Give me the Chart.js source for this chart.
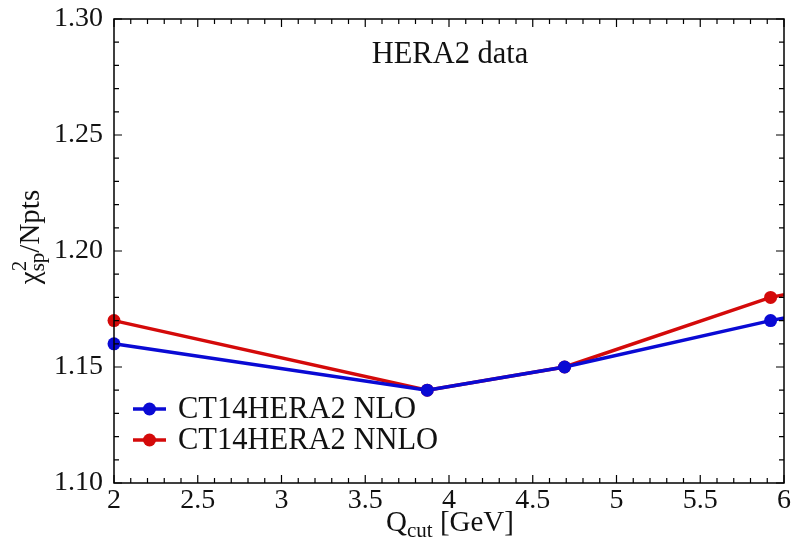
<!DOCTYPE html>
<html>
<head>
<meta charset="utf-8">
<script src="https://cdn.jsdelivr.net/npm/chart.js@4.4.1/dist/chart.umd.min.js"></script>
<style>
    html, body { margin: 0; padding: 0; background: #fff; }
    #wrap { width: 798px; height: 544px; }
</style>
</head>
<body>
<div id="wrap"><canvas id="chi2Chart" width="798" height="544"></canvas></div>
<script>
// Q_cut values (GeV); last point lies past the x range and is clipped at the frame
const qCut = [2.0, 3.87, 4.69, 5.92, 6.5];
const chi2Nlo = [1.16, 1.14, 1.15, 1.17, 1.178];
const chi2Nnlo = [1.17, 1.14, 1.15, 1.18, 1.188];
const seriesLabels = ['CT14HERA2 NLO', 'CT14HERA2 NNLO'];
const seriesColors = ['#0a0ad4', '#d40a0a'];
const panelText = 'HERA2 data';

const SERIF = "'Liberation Serif', 'DejaVu Serif', serif";

function toPoints(xs, ys) {
    return xs.map((x, i) => ({ x: x, y: ys[i] }));
}

// frame, inward major/minor ticks, legend, panel text and axis titles
const decorations = {
    id: 'decorations',
    afterDraw(chart) {
        const ctx = chart.ctx;
        const area = chart.chartArea;
        const xs = chart.scales.x;
        const ys = chart.scales.y;
        ctx.save();
        ctx.strokeStyle = '#000';
        ctx.lineWidth = 1.5;
        ctx.strokeRect(area.left, area.top, area.right - area.left, area.bottom - area.top);

        ctx.lineWidth = 1.2;
        ctx.beginPath();
        for (let i = 0; i <= 40; i++) {
            const v = 2 + i * 0.1;
            const px = xs.getPixelForValue(v);
            const len = i % 5 === 0 ? 8 : 5;
            ctx.moveTo(px, area.bottom); ctx.lineTo(px, area.bottom - len);
            ctx.moveTo(px, area.top); ctx.lineTo(px, area.top + len);
        }
        for (let i = 0; i <= 20; i++) {
            const v = 1.10 + i * 0.01;
            const py = ys.getPixelForValue(v);
            const len = i % 5 === 0 ? 8 : 5;
            ctx.moveTo(area.left, py); ctx.lineTo(area.left + len, py);
            ctx.moveTo(area.right, py); ctx.lineTo(area.right - len, py);
        }
        ctx.stroke();

        // legend in the lower left corner
        ctx.font = '30.5px ' + SERIF;
        ctx.textBaseline = 'middle';
        ctx.textAlign = 'left';
        chart.data.datasets.forEach((ds, i) => {
            const y = 409 + i * 31;
            ctx.strokeStyle = ds.borderColor;
            ctx.lineWidth = 3.5;
            ctx.beginPath();
            ctx.moveTo(133, y); ctx.lineTo(166, y);
            ctx.stroke();
            ctx.fillStyle = ds.borderColor;
            ctx.beginPath();
            ctx.arc(149.5, y, 6.5, 0, Math.PI * 2);
            ctx.fill();
            ctx.fillStyle = '#111';
            ctx.fillText(ds.label, 178, y + 1);
        });

        ctx.textAlign = 'center';
        ctx.fillText(panelText, 450, 55);

        // x title: Q_cut [GeV]
        drawRich(ctx, [
            { t: 'Q', size: 29, dy: 0 },
            { t: 'cut', size: 21, dy: 8 },
            { t: ' [GeV]', size: 29, dy: 0 }
        ], 450, 523);

        // y title: chi^2_sp / Npts, rotated
        ctx.save();
        ctx.translate(31, 237);
        ctx.rotate(-Math.PI / 2);
        drawRich(ctx, [
            { t: 'χ', size: 29, dy: 0 },
            { t: '2', size: 21, dy: -11, stack: true },
            { t: 'sp', size: 21, dy: 7 },
            { t: '/Npts', size: 29, dy: 0 }
        ], 0, 0);
        ctx.restore();
        ctx.restore();
    }
};

// draws a run of text pieces centred on (cx, cy); a piece with stack shares its
// x position with the next piece (superscript over subscript)
function drawRich(ctx, parts, cx, cy) {
    let total = 0;
    const widths = parts.map(p => {
        ctx.font = p.size + 'px ' + SERIF;
        return ctx.measureText(p.t).width;
    });
    parts.forEach((p, i) => {
        if (p.stack) return;
        total += widths[i];
    });
    let x = cx - total / 2;
    ctx.textAlign = 'left';
    ctx.textBaseline = 'middle';
    ctx.fillStyle = '#111';
    parts.forEach((p, i) => {
        ctx.font = p.size + 'px ' + SERIF;
        ctx.fillText(p.t, x, cy + p.dy);
        if (!p.stack) x += widths[i];
    });
}

const ctx = document.getElementById('chi2Chart').getContext('2d');
new Chart(ctx, {
    type: 'line',
    data: {
        datasets: [
            {
                label: seriesLabels[0],
                data: toPoints(qCut, chi2Nlo),
                borderColor: seriesColors[0],
                backgroundColor: seriesColors[0],
                borderWidth: 3.5,
                pointRadius: 6.5,
                pointBorderWidth: 0,
                tension: 0,
                clip: { left: 10, right: 0, top: 0, bottom: 0 }
            },
            {
                label: seriesLabels[1],
                data: toPoints(qCut, chi2Nnlo),
                borderColor: seriesColors[1],
                backgroundColor: seriesColors[1],
                borderWidth: 3.5,
                pointRadius: 6.5,
                pointBorderWidth: 0,
                tension: 0,
                clip: { left: 10, right: 0, top: 0, bottom: 0 }
            }
        ]
    },
    options: {
        responsive: false,
        animation: false,
        layout: { padding: { left: 0, right: 14, top: 19, bottom: 0 } },
        scales: {
            x: {
                type: 'linear',
                min: 2,
                max: 6,
                grid: { display: false, drawTicks: false },
                border: { display: false },
                ticks: {
                    stepSize: 0.5,
                    padding: 1,
                    color: '#111',
                    font: { family: SERIF, size: 28 },
                    maxRotation: 0,
                    callback: value => String(value)
                },
                afterFit(scale) { scale.height = 61; }
            },
            y: {
                min: 1.10,
                max: 1.30,
                grid: { display: false, drawTicks: false },
                border: { display: false },
                ticks: {
                    stepSize: 0.05,
                    padding: 11,
                    color: '#111',
                    font: { family: SERIF, size: 28, lineHeight: 0.3 },
                    callback: value => value.toFixed(2)
                },
                afterFit(scale) { scale.width = 114; }
            }
        },
        plugins: {
            legend: { display: false },
            tooltip: { enabled: false }
        }
    },
    plugins: [decorations]
});
</script>
</body>
</html>
